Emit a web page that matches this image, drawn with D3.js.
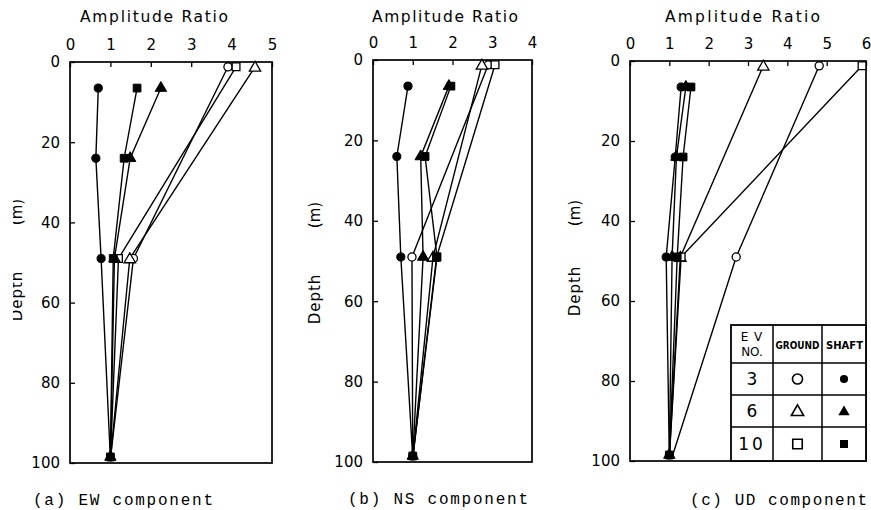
<!DOCTYPE html>
<html><head><meta charset="utf-8">
<script src="https://cdn.jsdelivr.net/npm/d3@7"></script>
<style>
body{margin:0;background:#fff;}
svg{display:block;}
</style></head>
<body>
<svg id="chart" width="871" height="510"></svg>
<script>
// ---------- data ----------
const depthTicks = [0, 20, 40, 60, 80, 100];
const shaftDepths = [6.5, 24, 49, 99];
const groundDepths = [1.2, 49, 99];
const events = ["3", "6", "10"];

// EW component
const ewTicks = [0, 1, 2, 3, 4, 5];
const ewShaft3 = [0.70, 0.64, 0.77, 1.0];
const ewShaft6 = [2.25, 1.49, 1.10, 1.0];
const ewShaft10 = [1.66, 1.34, 1.07, 1.0];
const ewGround3 = [3.91, 1.57, 1.0];
const ewGround6 = [4.58, 1.48, 1.0];
const ewGround10 = [4.11, 1.20, 1.0];

// NS component
const nsTicks = [0, 1, 2, 3, 4];
const nsShaft3 = [0.88, 0.60, 0.70, 1.0];
const nsShaft6 = [1.91, 1.20, 1.26, 1.0];
const nsShaft10 = [1.96, 1.31, 1.61, 1.0];
const nsGround3 = [2.90, 0.98, 1.0];
const nsGround6 = [2.74, 1.51, 1.0];
const nsGround10 = [3.07, 1.60, 1.0];

// UD component
const udTicks = [0, 1, 2, 3, 4, 5, 6];
const udShaft3 = [1.30, 1.15, 0.92, 1.0];
const udShaft6 = [1.42, 1.18, 1.07, 1.0];
const udShaft10 = [1.55, 1.35, 1.20, 1.0];
const udGround3 = [4.81, 2.70, 1.07];
const udGround6 = [3.39, 1.28, 1.0];
const udGround10 = [5.90, 1.30, 1.0];

const captions = ["(a) EW component", "(b) NS component", "(c) UD component"];
const xTitle = "Amplitude Ratio";

// ---------- layout ----------
const panels = [
  {ticks: ewTicks, max: 5, L: 70, R: 272, T: 62, B: 463,
   ground: [ewGround3, ewGround6, ewGround10], shaft: [ewShaft3, ewShaft6, ewShaft10],
   titleX: [80, 228], capX: [33, 213], capY: 505, ylabX: 22, ylab: [212, 296], clipLabel: true},
  {ticks: nsTicks, max: 4, L: 373, R: 532, T: 60, B: 462,
   ground: [nsGround3, nsGround6, nsGround10], shaft: [nsShaft3, nsShaft6, nsShaft10],
   titleX: [372, 518], capX: [348, 528], capY: 504, ylabX: 320, ylab: [215, 299], clipLabel: false},
  {ticks: udTicks, max: 6, L: 630, R: 866, T: 61, B: 461,
   ground: [udGround3, udGround6, udGround10], shaft: [udShaft3, udShaft6, udShaft10],
   titleX: [665, 820], capX: [690, 867], capY: 505, ylabX: 580, ylab: [213, 291], clipLabel: false}
];

const svg = d3.select("#chart");
const sansFont = "DejaVu Sans, Verdana, sans-serif";
const monoFont = "Liberation Mono, DejaVu Sans Mono, monospace";

const symbols = [d3.symbolCircle, d3.symbolTriangle, d3.symbolSquare];
const symSizes = [52, 56, 60];
const legOpen = [80, 66, 90];
const legFill = [52, 56, 64];

svg.append("defs").append("clipPath").attr("id", "clipA")
  .append("rect").attr("x", 13).attr("y", 0).attr("width", 60).attr("height", 510);

panels.forEach((p, pi) => {
  const x = d3.scaleLinear().domain([0, p.max]).range([p.L, p.R]);
  const y = d3.scaleLinear().domain([0, 100]).range([p.T, p.B]);
  const g = svg.append("g");

  // axis title
  g.append("text").attr("x", p.titleX[0]).attr("y", 22)
    .attr("font-family", sansFont).attr("font-size", 15.5)
    .attr("textLength", p.titleX[1] - p.titleX[0]).attr("lengthAdjust", "spacing")
    .text(xTitle);

  // top axis
  const top = g.append("g").attr("transform", `translate(0,${p.T})`)
    .call(d3.axisTop(x).tickValues(p.ticks).tickSize(-5).tickPadding(12).tickFormat(d3.format("d")));
  top.select(".domain").remove();
  top.selectAll("text").attr("font-family", sansFont).attr("font-size", 15).attr("fill", "#000");
  top.selectAll("line").attr("stroke", "#000").attr("stroke-width", 1.3);

  // left axis
  const left = g.append("g").attr("transform", `translate(${p.L},0)`)
    .call(d3.axisLeft(y).tickValues(depthTicks).tickSize(-5).tickPadding(10).tickFormat(d3.format("d")));
  left.select(".domain").remove();
  left.selectAll("text").attr("font-family", sansFont).attr("font-size", 15).attr("fill", "#000");
  left.selectAll("line").attr("stroke", "#000").attr("stroke-width", 1.3);

  // box
  g.append("rect").attr("x", p.L).attr("y", p.T).attr("width", p.R - p.L).attr("height", p.B - p.T)
    .attr("fill", "none").attr("stroke", "#000").attr("stroke-width", 1.7);

  // y label
  const yl = g.append("g");
  if (p.clipLabel) yl.attr("clip-path", "url(#clipA)");
  yl.append("text").attr("transform", `translate(${p.ylabX},${p.ylab[0]}) rotate(-90)`)
    .attr("text-anchor", "middle").attr("font-family", sansFont).attr("font-size", 15).text("(m)");
  yl.append("text").attr("transform", `translate(${p.ylabX},${p.ylab[1]}) rotate(-90)`)
    .attr("text-anchor", "middle").attr("font-family", sansFont).attr("font-size", 15)
    .attr("letter-spacing", 1).text("Depth");

  const line = d3.line().x(d => x(d[0])).y(d => y(d[1]));

  p.ground.forEach((vals) => {
    const pts = vals.map((v, k) => [v, groundDepths[k]]);
    g.append("path").attr("d", line(pts)).attr("fill", "none").attr("stroke", "#000").attr("stroke-width", 1.4);
  });
  p.shaft.forEach((vals) => {
    const pts = vals.map((v, k) => [v, shaftDepths[k]]);
    g.append("path").attr("d", line(pts)).attr("fill", "none").attr("stroke", "#000").attr("stroke-width", 1.4);
  });
  // ground markers
  p.ground.forEach((vals, i) => {
    vals.forEach((v, k) => {
      if (k === vals.length - 1) return;
      g.append("path").attr("d", d3.symbol().type(symbols[i]).size(symSizes[i])())
        .attr("transform", `translate(${x(v)},${y(groundDepths[k]) + (i === 1 ? 1 : 0)})`)
        .attr("fill", "#fff").attr("stroke", "#000").attr("stroke-width", 1.3);
    });
  });
  // shaft markers
  p.shaft.forEach((vals, i) => {
    vals.forEach((v, k) => {
      g.append("path").attr("d", d3.symbol().type(symbols[i]).size(symSizes[i])())
        .attr("transform", `translate(${x(v)},${y(shaftDepths[k]) - (k === vals.length - 1 ? 2 : 0)})`)
        .attr("fill", "#000").attr("stroke", "#000").attr("stroke-width", 1);
    });
  });

  // caption
  g.append("text").attr("x", p.capX[0]).attr("y", p.capY)
    .attr("font-family", monoFont).attr("font-size", 16)
    .attr("textLength", p.capX[1] - p.capX[0]).attr("lengthAdjust", "spacing")
    .text(captions[pi]);
});

// ---------- legend table ----------
const lg = svg.append("g");
const colX = [731, 773, 822, 866];
const rowY = [325, 363, 395, 427, 461];
lg.append("rect").attr("x", colX[0]).attr("y", rowY[0]).attr("width", colX[3] - colX[0]).attr("height", rowY[4] - rowY[0])
  .attr("fill", "#fff").attr("stroke", "#000").attr("stroke-width", 1.8);
colX.slice(1, 3).forEach(cx => lg.append("line").attr("x1", cx).attr("x2", cx).attr("y1", rowY[0]).attr("y2", rowY[4])
  .attr("stroke", "#000").attr("stroke-width", 1.5));
rowY.slice(1, 4).forEach(ry => lg.append("line").attr("x1", colX[0]).attr("x2", colX[3]).attr("y1", ry).attr("y2", ry)
  .attr("stroke", "#000").attr("stroke-width", 1.5));
const cMid = [(colX[0] + colX[1]) / 2, (colX[1] + colX[2]) / 2, (colX[2] + colX[3]) / 2];
lg.append("text").attr("x", cMid[0]).attr("y", 341).attr("text-anchor", "middle")
  .attr("font-family", sansFont).attr("font-size", 12).attr("letter-spacing", 1).text("E V");
lg.append("text").attr("x", cMid[0]).attr("y", 356).attr("text-anchor", "middle")
  .attr("font-family", sansFont).attr("font-size", 12).text("NO.");
lg.append("text").attr("x", cMid[1]).attr("y", 349).attr("text-anchor", "middle")
  .attr("font-family", sansFont).attr("font-size", 11).attr("font-weight", "bold")
  .attr("textLength", 44).attr("lengthAdjust", "spacingAndGlyphs").text("GROUND");
lg.append("text").attr("x", cMid[2] + 0.5).attr("y", 349).attr("text-anchor", "middle")
  .attr("font-family", sansFont).attr("font-size", 11).attr("font-weight", "bold")
  .attr("textLength", 37).attr("lengthAdjust", "spacingAndGlyphs").text("SHAFT");
events.forEach((ev, i) => {
  const cy = (rowY[i + 1] + rowY[i + 2]) / 2;
  lg.append("text").attr("x", cMid[0]).attr("y", cy + 6).attr("text-anchor", "middle")
    .attr("font-family", sansFont).attr("font-size", 17).attr("letter-spacing", ev.length > 1 ? 3 : 0).text(ev);
  lg.append("path").attr("d", d3.symbol().type(symbols[i]).size(legOpen[i])())
    .attr("transform", `translate(${cMid[1]},${cy + (i === 1 ? 1 : 0)})`).attr("fill", "#fff").attr("stroke", "#000").attr("stroke-width", 1.6);
  lg.append("path").attr("d", d3.symbol().type(symbols[i]).size(legFill[i])())
    .attr("transform", `translate(${cMid[2]},${cy + (i === 1 ? 1 : 0)})`).attr("fill", "#000");
});
</script>
</body></html>
